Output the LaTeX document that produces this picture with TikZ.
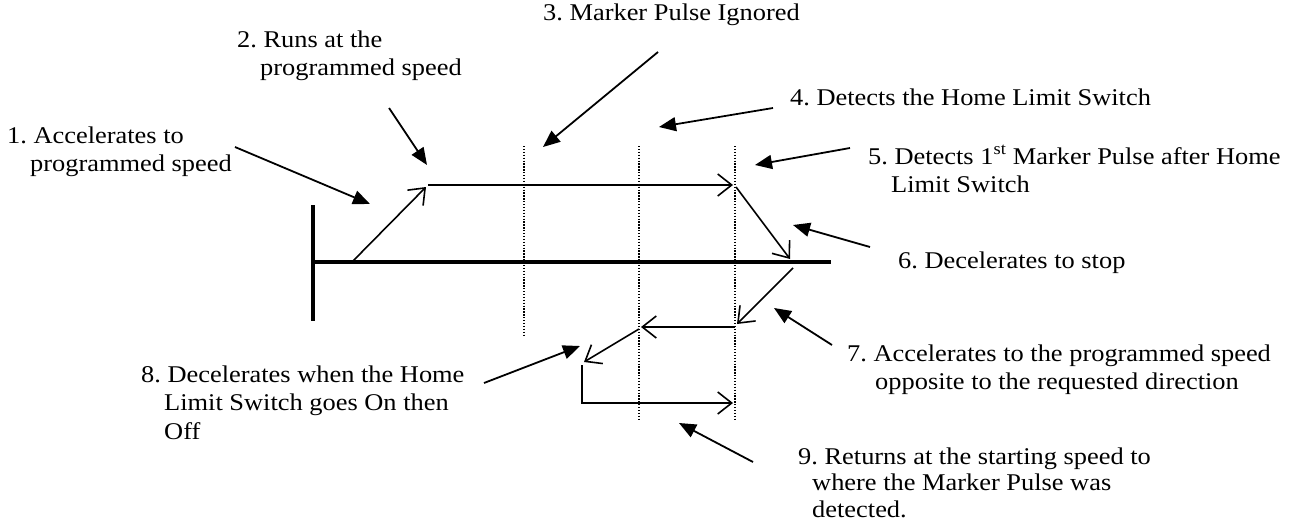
\documentclass[tikz,border=0pt]{standalone}
\usepackage{fontspec}
\setmainfont{Liberation Serif}[FakeStretch=1.1]
\usetikzlibrary{arrows.meta}
\newcommand{\lines}[1]{\begin{tabular}[t]{@{}l@{}}#1\end{tabular}}
\frenchspacing
\begin{document}
\frenchspacing
\begin{tikzpicture}[x=1pt,y=-1pt,
  lbl/.style={anchor=base west, inner sep=0pt, font=\fontsize{24}{28.5}\selectfont\frenchspacing},
  axisline/.style={line width=3.4pt},
  dots/.style={line width=1.3pt, dash pattern=on 1.3pt off 1.6pt},
  move/.style={line width=1.6pt, -{Straight Barb[length=14pt,width=22pt,line width=1.6pt]}},
  plain/.style={line width=1.6pt},
  callout/.style={line width=1.8pt, -{Triangle[length=17pt,width=14pt]}}
]
\useasboundingbox (0,0) rectangle (1299,522);
% axes
\coordinate (bt) at (313,205);
\coordinate (bb) at (313,321);
\coordinate (h0) at (313,262);
\coordinate (h1) at (831,262);
\draw[axisline] (bt) -- (bb);
\draw[axisline] (h0) -- (h1);
% dotted markers
\coordinate (d1t) at (524,146); \coordinate (d1b) at (524,337);
\coordinate (d2t) at (639,146); \coordinate (d2b) at (639,420);
\coordinate (d3t) at (735,146); \coordinate (d3b) at (735,420);
\draw[dots] (d1t) -- (d1b);
\draw[dots] (d2t) -- (d2b);
\draw[dots] (d3t) -- (d3b);
% motion path
\coordinate (p1) at (352,262);
\coordinate (p2) at (426,187);
\coordinate (p3) at (428,185);
\coordinate (p4) at (733,185);
\coordinate (p5) at (736,187);
\coordinate (p6) at (790,259);
\coordinate (p7) at (793,268);
\coordinate (p8) at (737,324);
\coordinate (p9) at (735,327);
\coordinate (p10) at (641,327);
\coordinate (p11) at (639,329);
\coordinate (p12) at (584,362);
\coordinate (p13) at (582,365);
\coordinate (p14) at (582,403);
\coordinate (p15) at (733,403);
\draw[move] (p1) -- (p2);
\draw[move] (p3) -- (p4);
\draw[move] (p5) -- (p6);
\draw[move] (p7) -- (p8);
\draw[move] (p9) -- (p10);
\draw[move] (p11) -- (p12);
\draw[move] (p13) -- (p14) -- (p15);
% labels
\node[lbl] (t1) at (7,143) {\lines{1. Accelerates to\\\hspace*{23pt}programmed speed}};
\node[lbl] (t2) at (237,47) {\lines{2. Runs at the\\\hspace*{23pt}programmed speed}};
\node[lbl] (t3) at (543,20) {3. Marker Pulse Ignored};
\node[lbl] (t4) at (790,105) {4. Detects the Home Limit Switch};
\node[lbl] (t5) at (868,164) {\lines{5. Detects 1\textsuperscript{st} Marker Pulse after Home\\\hspace*{23pt}Limit Switch}};
\node[lbl] (t6) at (898,268) {6. Decelerates to stop};
\node[lbl] (t7) at (847,361) {\lines{7. Accelerates to the programmed speed\\\hspace*{28pt}opposite to the requested direction}};
\node[lbl] (t8) at (141,382) {\lines{8. Decelerates when the Home\\\hspace*{23pt}Limit Switch goes On then\\\hspace*{23pt}Off}};
\node[lbl, font=\fontsize{24}{26.5}\selectfont\frenchspacing] (t9) at (798,464) {\lines{9. Returns at the starting speed to\\\hspace*{14pt}where the Marker Pulse was\\\hspace*{14pt}detected.}};
% callouts
\coordinate (c1s) at (235,147); \coordinate (c1e) at (370,204);
\coordinate (c2s) at (389,108); \coordinate (c2e) at (427,165);
\coordinate (c3s) at (658,52);  \coordinate (c3e) at (543,147);
\coordinate (c4s) at (773,108); \coordinate (c4e) at (659,127);
\coordinate (c5s) at (850,148); \coordinate (c5e) at (755,165);
\coordinate (c6s) at (870,247); \coordinate (c6e) at (793,225);
\coordinate (c7s) at (832,345); \coordinate (c7e) at (774,308);
\coordinate (c8s) at (484,383); \coordinate (c8e) at (580,346);
\coordinate (c9s) at (753,462); \coordinate (c9e) at (679,423);
\draw[callout] (c1s) -- (c1e);
\draw[callout] (c2s) -- (c2e);
\draw[callout] (c3s) -- (c3e);
\draw[callout] (c4s) -- (c4e);
\draw[callout] (c5s) -- (c5e);
\draw[callout] (c6s) -- (c6e);
\draw[callout] (c7s) -- (c7e);
\draw[callout] (c8s) -- (c8e);
\draw[callout] (c9s) -- (c9e);
\end{tikzpicture}
\end{document}
